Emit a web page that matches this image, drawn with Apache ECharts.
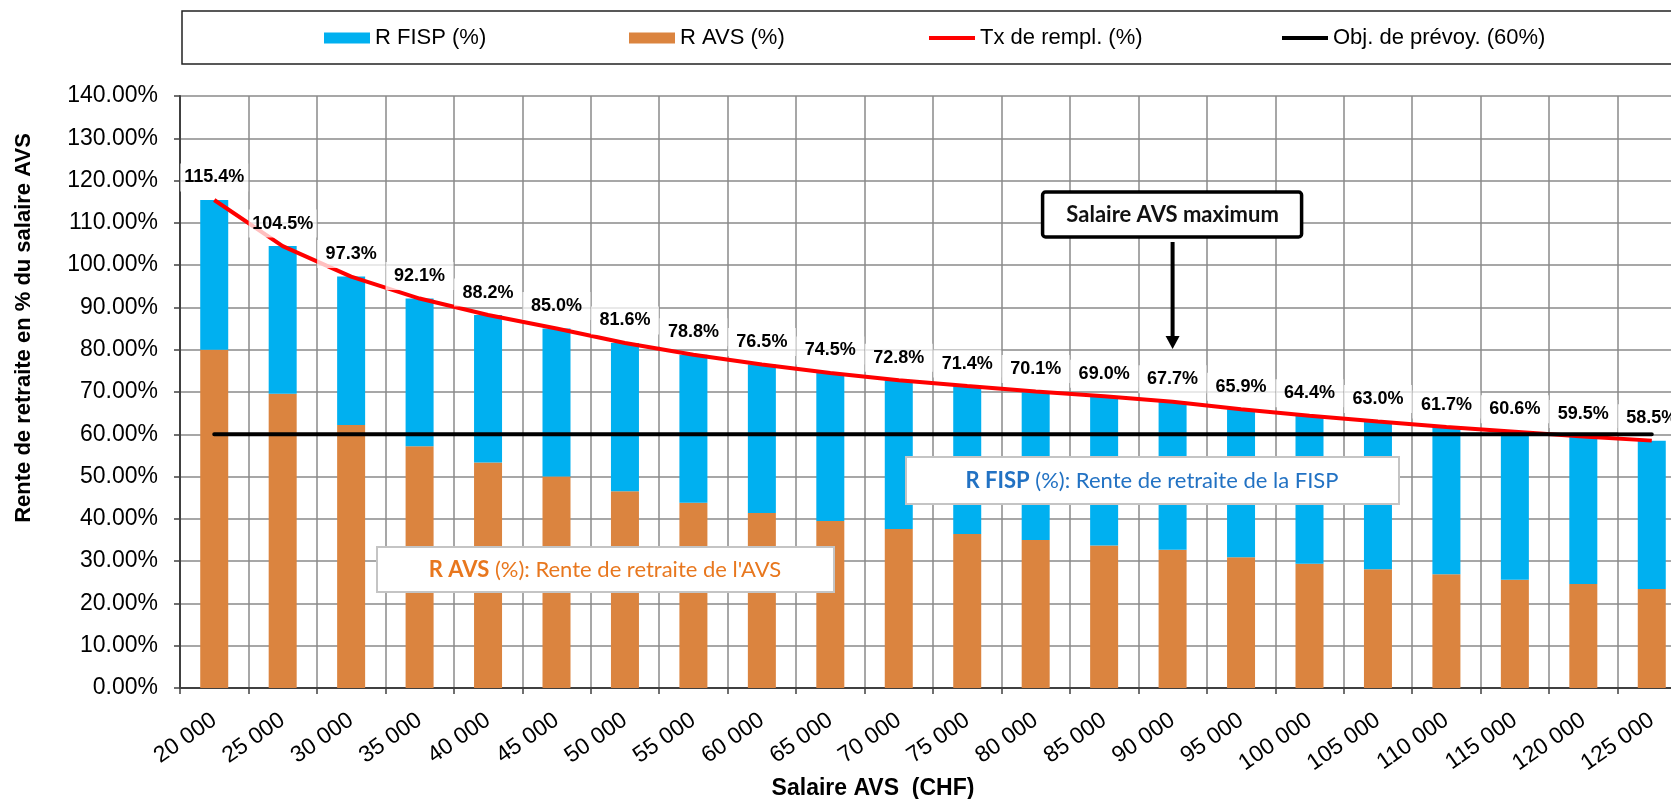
<!DOCTYPE html>
<html>
<head>
<meta charset="utf-8">
<script src="https://cdn.jsdelivr.net/npm/echarts@6/dist/echarts.min.js"></script>
<style>
html,body{margin:0;padding:0;background:#fff;}
#c{width:1671px;height:799px;}
</style>
</head>
<body>
<div id="c"></div>
<script>
// ---- data ----
const categories = ['20 000','25 000','30 000','35 000','40 000','45 000','50 000','55 000','60 000','65 000','70 000','75 000','80 000','85 000','90 000','95 000','100 000','105 000','110 000','115 000','120 000','125 000'];
const avsValues  = [80.0, 69.6, 62.2, 57.2, 53.3, 50.0, 46.5, 43.8, 41.4, 39.5, 37.6, 36.4, 35.0, 33.7, 32.7, 30.9, 29.4, 28.1, 26.9, 25.6, 24.6, 23.4];
const fispValues = [35.4, 34.9, 35.1, 34.9, 34.9, 35.0, 35.1, 35.0, 35.1, 35.0, 35.2, 35.0, 35.1, 35.3, 35.0, 35.0, 35.0, 34.9, 34.8, 35.0, 34.9, 35.1];
const txValues   = [115.4, 104.5, 97.3, 92.1, 88.2, 85.0, 81.6, 78.8, 76.5, 74.5, 72.8, 71.4, 70.1, 69.0, 67.7, 65.9, 64.4, 63.0, 61.7, 60.6, 59.5, 58.5];
const objValues  = [60, 60, 60, 60, 60, 60, 60, 60, 60, 60, 60, 60, 60, 60, 60, 60, 60, 60, 60, 60, 60, 60];
const seriesNames = ['R FISP (%)', 'R AVS (%)', 'Tx de rempl. (%)', 'Obj. de prévoy. (60%)'];
const yMin = 0, yMax = 140, yStep = 10;
const maxSalaryCategory = '90 000';

const FONT = '"Liberation Sans", Arial, sans-serif';
const NOTE_FONT = 'Lato, "Open Sans", sans-serif';

const chart = echarts.init(document.getElementById('c'), null, {renderer: 'canvas'});

function legendAt(name, left, isLine) {
  return {
    data: [{name: name, icon: 'rect'}], left: left, top: 27, padding: 0,
    itemWidth: 46, itemHeight: isLine ? 4 : 11,
    textStyle: {fontSize: 22, color: '#000', fontFamily: FONT},
    selectedMode: false
  };
}

const option = {
  animation: false,
  backgroundColor: '#fff',
  grid: {left: 180, top: 96, width: 1506, height: 592, outerBoundsMode: 'none', containLabel: false},
  legend: [
    legendAt(seriesNames[0], 324, false),
    legendAt(seriesNames[1], 629, false),
    legendAt(seriesNames[2], 929, true),
    legendAt(seriesNames[3], 1282, true)
  ],
  xAxis: {
    type: 'category', data: categories, boundaryGap: true,
    axisLine: {lineStyle: {color: '#404040', width: 2}},
    axisTick: {show: true, interval: 0, length: 6, lineStyle: {color: '#404040', width: 1.5}},
    axisLabel: {interval: 0, rotate: 35, fontSize: 23, color: '#000', margin: 30, fontFamily: FONT},
    splitLine: {show: true, interval: 0, lineStyle: {color: '#8a8a8a', width: 1.5}}
  },
  yAxis: {
    type: 'value', min: yMin, max: yMax, interval: yStep,
    axisLine: {show: true, lineStyle: {color: '#404040', width: 2}},
    axisTick: {show: true, length: 6, lineStyle: {color: '#404040', width: 1.5}},
    axisLabel: {formatter: v => v.toFixed(2) + '%', fontSize: 23, color: '#000', margin: 22, fontFamily: FONT},
    splitLine: {show: true, lineStyle: {color: '#8a8a8a', width: 1.5}}
  },
  series: [
    {
      name: seriesNames[1], type: 'bar', stack: 'r', data: avsValues, barWidth: 28,
      itemStyle: {color: '#DB843F'}, z: 2
    },
    {
      name: seriesNames[0], type: 'bar', stack: 'r', data: fispValues, barWidth: 28,
      itemStyle: {color: '#00B0F0'}, z: 2
    },
    {
      name: seriesNames[2], type: 'line', data: txValues, symbol: 'none',
      lineStyle: {color: '#FF0000', width: 4}, itemStyle: {color: '#FF0000'}, z: 3
    },
    {
      name: seriesNames[3], type: 'line', data: objValues, symbol: 'none',
      lineStyle: {color: '#000', width: 4, cap: 'round'}, itemStyle: {color: '#000'}, z: 4
    },
    {
      name: 'labels', type: 'line', data: txValues, symbol: 'circle', symbolSize: 1,
      lineStyle: {width: 0, opacity: 0}, itemStyle: {color: 'rgba(0,0,0,0)'}, z: 6,
      label: {
        show: true, position: 'top', distance: 8,
        formatter: p => p.value.toFixed(1) + '%',
        color: '#000', fontSize: 18, fontWeight: 'bold', fontFamily: FONT,
        backgroundColor: 'rgba(255,255,255,0.75)', padding: [5, 3], width: 62, align: 'center'
      }
    }
  ]
};
chart.setOption(option);

const ax = chart.convertToPixel({xAxisIndex: 0}, maxSalaryCategory);

chart.setOption({
  graphic: [
    {type: 'rect', shape: {x: 182, y: 11, width: 1600, height: 53}, style: {fill: 'none', stroke: '#222', lineWidth: 1.5}, z: 10},
    {type: 'text', x: 24, y: 328, rotation: Math.PI / 2,
      style: {text: 'Rente de retraite en % du salaire AVS', fontSize: 22, fontWeight: 'bold', fontFamily: FONT, fill: '#000', align: 'center', verticalAlign: 'middle'}},
    {type: 'text', x: 873, y: 789,
      style: {text: 'Salaire AVS  (CHF)', fontSize: 23, fontWeight: 'bold', fontFamily: FONT, fill: '#000', align: 'center', verticalAlign: 'middle'}},
    // Salaire AVS maximum box + arrow
    {type: 'rect', shape: {x: ax - 130, y: 192, width: 259, height: 45, r: 3}, style: {fill: '#fff', stroke: '#000', lineWidth: 3.5}, z: 20},
    {type: 'text', x: ax, y: 214.5, z: 21,
      style: {text: 'Salaire AVS maximum', fontSize: 22, fontWeight: 'bold', fontFamily: NOTE_FONT, fill: '#111', align: 'center', verticalAlign: 'middle'}},
    {type: 'line', shape: {x1: ax, y1: 242, x2: ax, y2: 338}, style: {stroke: '#000', lineWidth: 4}, z: 20},
    {type: 'polygon', shape: {points: [[ax - 7, 336], [ax + 7, 336], [ax, 349]]}, style: {fill: '#000'}, z: 20},
    // R AVS note
    {type: 'rect', shape: {x: 377, y: 547, width: 457, height: 45}, style: {fill: '#fff', stroke: '#c4c4c4', lineWidth: 2}, z: 20},
    {type: 'text', x: 605, y: 569.5, z: 21,
      style: {text: '{b|R AVS} (%): Rente de retraite de l\'AVS', fontSize: 22, fontFamily: NOTE_FONT, fill: '#E8771E', align: 'center', verticalAlign: 'middle',
        rich: {b: {fontWeight: 'bold', fontSize: 22, fontFamily: NOTE_FONT, fill: '#E8771E'}}}},
    // R FISP note
    {type: 'rect', shape: {x: 906, y: 457, width: 493, height: 47}, style: {fill: '#fff', stroke: '#c4c4c4', lineWidth: 2}, z: 20},
    {type: 'text', x: 1152, y: 480.5, z: 21,
      style: {text: '{b|R FISP} (%): Rente de retraite de la FISP', fontSize: 22, fontFamily: NOTE_FONT, fill: '#2272C3', align: 'center', verticalAlign: 'middle',
        rich: {b: {fontWeight: 'bold', fontSize: 22, fontFamily: NOTE_FONT, fill: '#2272C3'}}}}
  ]
});
</script>
</body>
</html>
